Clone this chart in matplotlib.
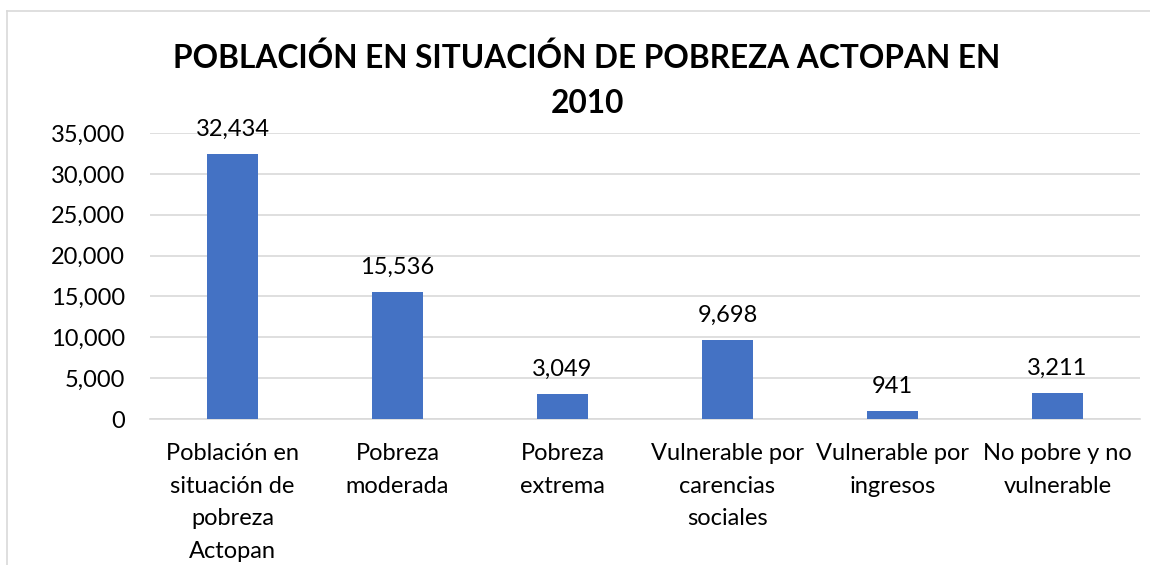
import matplotlib
matplotlib.use("Agg")
import matplotlib.pyplot as plt
from matplotlib.lines import Line2D

categories = ["Población en\nsituación de\npobreza\nActopan", "Pobreza\nmoderada", "Pobreza\nextrema",
              "Vulnerable por\ncarencias\nsociales", "Vulnerable por\ningresos", "No pobre y no\nvulnerable"]
values = [32434, 15536, 3049, 9698, 941, 3211]
yticks = [0, 5000, 10000, 15000, 20000, 25000, 30000, 35000]
title = "POBLACIÓN EN SITUACIÓN DE POBREZA ACTOPAN EN\n2010"

plt.rcParams['font.family'] = ['Lato', 'DejaVu Sans']
W, H = 1150, 565
fig = plt.figure(figsize=(W/100, H/100), dpi=100)
ax = fig.add_axes([150/W, 1-419/H, 990/W, (419-133)/H])

FS = 17
x = list(range(len(values)))
ax.bar(x, values, width=0.315, color="#4472c4", zorder=3)
ax.set_xlim(-0.5, len(values)-0.5)
ax.set_ylim(0, 35000)
ax.set_yticks(yticks)
ax.set_yticklabels([f"{v:,}" for v in yticks], fontsize=FS, color="#000000")
ax.set_xticks(x)
ax.set_xticklabels(categories, fontsize=FS, linespacing=1.7, va="top")
ax.tick_params(axis="both", length=0)
ax.tick_params(axis="y", pad=18)
ax.tick_params(axis="x", pad=17)
ax.grid(axis="y", color="#d9d9d9", linewidth=1.2, zorder=0)
for s in ["top", "right", "left"]:
    ax.spines[s].set_visible(False)
ax.spines["bottom"].set_color("#d9d9d9")
ax.spines["bottom"].set_linewidth(1.2)

for xi, v in zip(x, values):
    ax.annotate(f"{v:,}", (xi, v), xytext=(0, 10), textcoords="offset points",
                ha="center", va="bottom", fontsize=FS)

fig.text(587/W, 1-80/H, title, ha="center", va="center", fontsize=22.8,
         fontweight="bold", linespacing=1.65)

fig.add_artist(Line2D([7/W, 1], [1-11/H, 1-11/H], color="#d9d9d9", linewidth=1.2))
fig.add_artist(Line2D([7/W, 7/W], [1-11/H, 0], color="#d9d9d9", linewidth=1.2))

fig.savefig("out.png", dpi=100, facecolor="white")
